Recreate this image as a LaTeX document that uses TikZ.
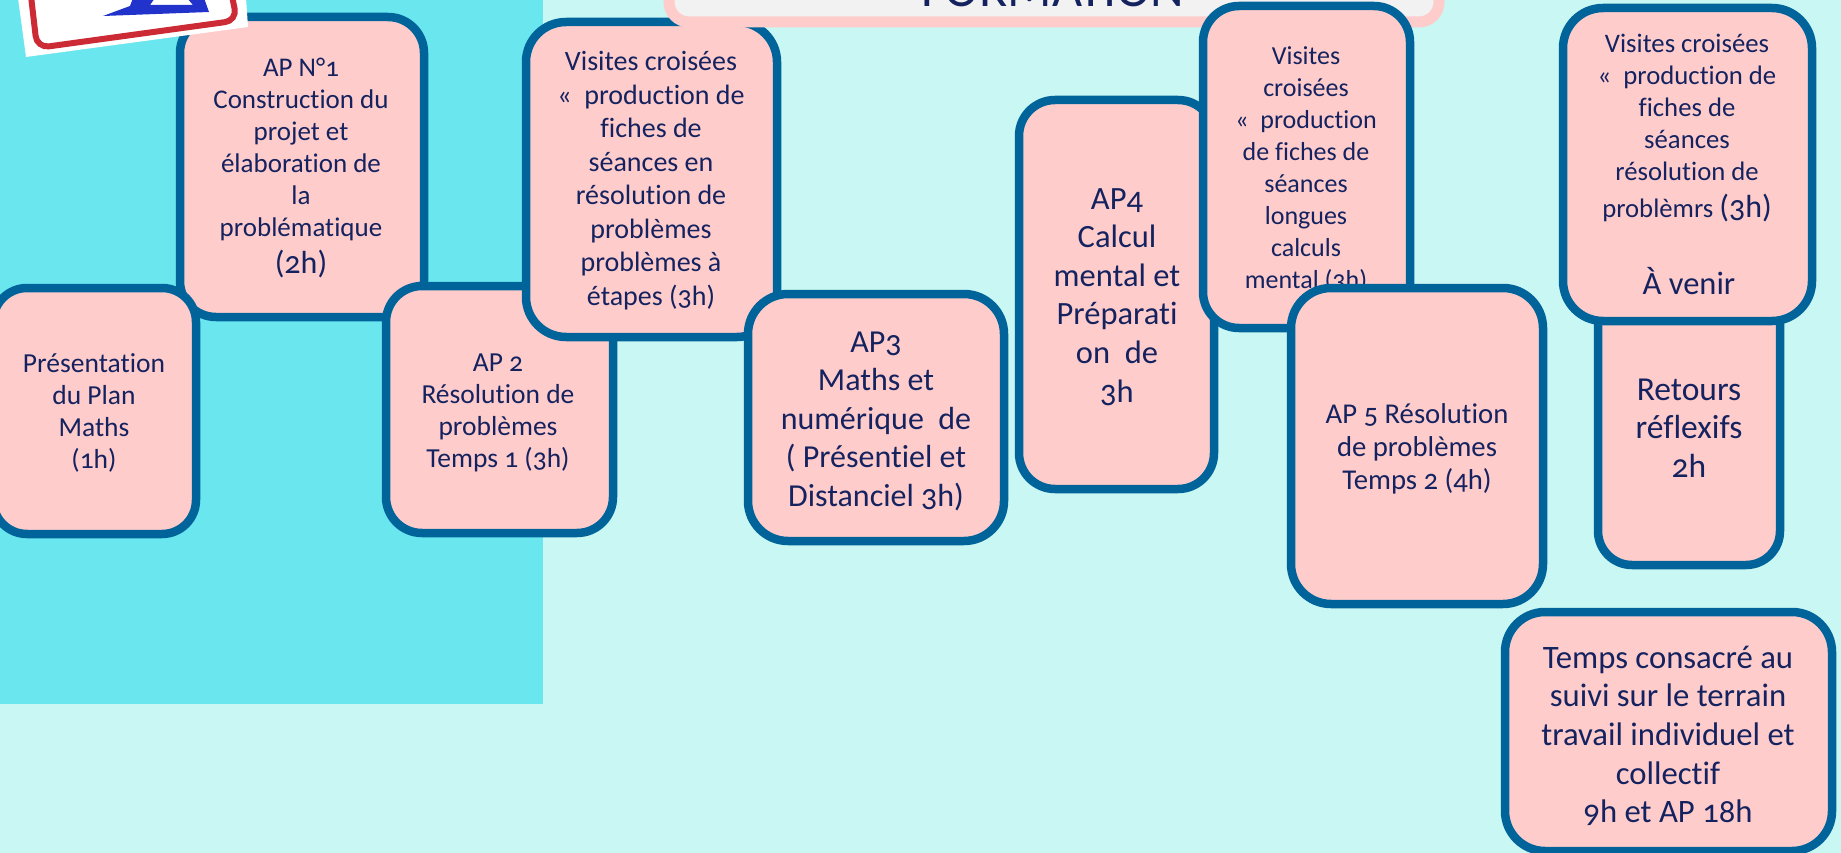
\documentclass[tikz,border=0pt]{standalone}
\usepackage{fontspec}
\setmainfont[Numbers=OldStyle,Ligatures=NoCommon]{Carlito}
\definecolor{bgpale}{HTML}{C9F7F3}
\definecolor{bgcyan}{HTML}{69E6EE}
\definecolor{edgeblue}{HTML}{00649A}
\definecolor{boxpink}{HTML}{FFCCCC}
\definecolor{inknavy}{HTML}{14235F}
\definecolor{panelgrey}{HTML}{F2F2F2}
\definecolor{stampred}{HTML}{CC2B35}
\definecolor{stampblue}{HTML}{2233CC}
\newcommand{\bigtxt}[1]{{\fontsize{32}{32}\selectfont #1}}
% name, left, top, right, bottom, radius
\newcommand{\card}[6]{%
  \pgfmathsetmacro{\cw}{#4-(#2)}\pgfmathsetmacro{\ch}{#5-(#3)}%
  \pgfmathsetmacro{\cx}{(#4+#2)/2}\pgfmathsetmacro{\cy}{(#5+#3)/2}%
  \node[cardbox,rounded corners=#6pt,minimum width=\cw pt,minimum height=\ch pt] (#1) at (\cx,\cy) {};}
% name, centre x, first baseline y, font size, line step, text
\newcommand{\cardtext}[6]{%
  \node[cardlabel] (#1) at (#2,#3) {\parbox[t]{300pt}{\centering\fontsize{#4}{#5}\selectfont #6}};}
\begin{document}
\begin{tikzpicture}[x=1pt,y=-1pt,
  cardbox/.style={draw=edgeblue,fill=boxpink,line width=8.5pt,inner sep=0pt,outer sep=0pt},
  cardlabel/.style={anchor=base,inner sep=0pt,outer sep=0pt,text=inknavy}]
\clip (0,0) rectangle (1841,853);
\fill[bgpale] (0,0) rectangle (1841,853);
\fill[bgcyan] (0,0) rectangle (543,704);

\card{apone}{180}{17}{424}{317}{36}
\cardtext{aponet}{301}{77}{27}{32}{AP N°1\\Construction du\\projet et\\élaboration de\\la\\problématique\\[5pt]\bigtxt{(2h)}}
\card{pres}{-7}{288}{196}{534}{34}
\cardtext{prest}{94}{372}{27.5}{32}{Présentation\\du Plan\\Maths\\(1h)}
\card{aptwo}{386}{286}{613}{533}{36}
\cardtext{aptwot}{498}{371}{27.5}{32}{AP 2\\Résolution de\\problèmes\\Temps 1 (3h)}
\card{visa}{526}{22}{777}{337}{40}
\cardtext{visat}{651}{71}{28}{33.5}{Visites croisées\\«~ production de\\fiches de\\séances en\\résolution de\\problèmes\\problèmes à\\étapes (3h)}
\card{apthree}{748}{294}{1004}{541}{40}
\cardtext{apthreet}{876}{352}{32}{38.5}{AP3\\Maths et\\numérique~ de\\( Présentiel et\\Distanciel 3h)}

\node[draw=boxpink,fill=panelgrey,line width=11pt,rounded corners=20pt,minimum width=770pt,minimum height=82pt,inner sep=0pt] (header) at (1054,-19) {};
\node[anchor=base,inner sep=0pt,text=inknavy,font=\fontsize{52}{52}\selectfont] (headert) at (1053,7) {FORMATION};

\card{apfour}{1019}{100}{1214}{489}{36}
\cardtext{apfourt}{1117}{209}{32.5}{38.6}{AP4\\Calcul\\mental et\\Préparati\\on~ de\\3h}
\card{visb}{1203}{6}{1410}{328}{36}
\cardtext{visbt}{1306}{65}{26}{32}{Visites\\croisées\\«~ production\\de fiches de\\séances\\longues\\calculs\\mental (3h)}
\card{apfive}{1291}{288}{1543}{604}{40}
\cardtext{apfivet}{1417}{423}{28.7}{33}{AP 5 Résolution\\de problèmes\\Temps 2 (4h)}
\card{ret}{1598}{290}{1780}{565}{34}
\cardtext{rett}{1689}{400}{33.5}{38.5}{Retours\\réflexifs\\2h}
\card{visc}{1563}{8}{1812}{321}{40}
\cardtext{visct}{1687}{53}{26.7}{32}{Visites croisées\\«~ production de\\fiches de\\séances\\résolution de\\[5pt]problèmrs \bigtxt{(3h)}}
\node[cardlabel,font=\fontsize{32.5}{36}\selectfont] (venir) at (1689,294) {À venir};
\card{temps}{1505}{612}{1832}{851}{40}
\cardtext{tempst}{1668}{668}{32.7}{38.7}{Temps consacré au\\suivi sur le terrain\\travail individuel et\\collectif\\9h et AP 18h}

% stamp picture, top left
\fill[white] (18,-2) -- (246,-2) -- (248,27) -- (26,57) -- cycle;
\draw[stampred,line width=6pt,rounded corners=12pt] (31,-4) -- (37,48) -- (237,20.5) -- (232,-4);
\fill[stampblue] (103,16) -- (130,6) -- (133,-2) -- (155,-2) -- (150,5) -- (193,5) -- (187,-2) -- (204,-2) -- (209,12) -- cycle;
\end{tikzpicture}
\end{document}
